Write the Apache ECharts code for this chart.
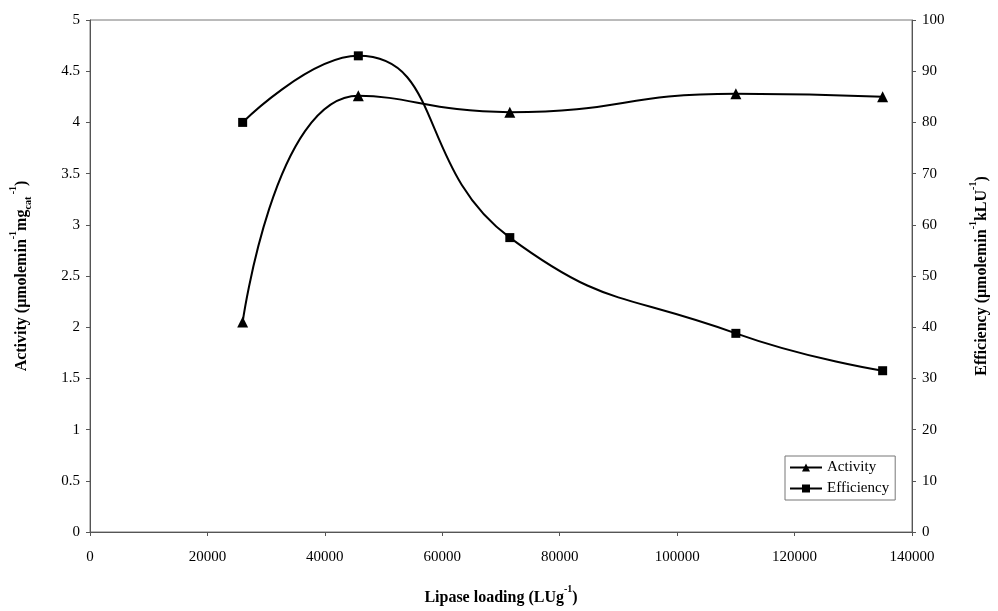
<!DOCTYPE html>
<html>
<head>
<meta charset="utf-8">
<script src="https://cdn.jsdelivr.net/npm/echarts@6/dist/echarts.min.js"></script>
<style>
  html, body { margin: 0; padding: 0; background: #fff; }
  #main { width: 998px; height: 611px; }
</style>
</head>
<body>
<div id="main"></div>
<script>
// lipase loading (LU/g)
var loading = [26000, 45700, 71500, 110000, 135000];
// activity (left axis)
var activity = [2.05, 4.26, 4.1, 4.28, 4.25];
// efficiency (right axis)
var efficiency = [80, 93, 57.5, 38.8, 31.5];

var pairs = function(xs, ys) {
    var out = [];
    for (var i = 0; i < xs.length; i++) {
        out.push([xs[i], ys[i]]);
    }
    return out;
};

var serif = '"Liberation Serif", "DejaVu Serif", serif';
var richName = {
    b: { fontFamily: serif, fontWeight: 'bold', fontSize: 16, color: '#000', lineHeight: 22, verticalAlign: 'bottom' },
    sup: { fontFamily: serif, fontWeight: 'bold', fontSize: 10, color: '#000', lineHeight: 22, verticalAlign: 'top' },
    sub: { fontFamily: serif, fontWeight: 'bold', fontSize: 10, color: '#000', lineHeight: 22, verticalAlign: 'bottom', padding: [0, 0, -3, 0] }
};
var axisLine = { show: true, lineStyle: { color: '#555', width: 1 } };
var axisTick = { show: true, length: 4, lineStyle: { color: '#555' } };
var axisLabel = { color: '#000', fontFamily: serif, fontSize: 15 };

var myChart = echarts.init(document.getElementById('main'));
var option = {
    backgroundColor: '#fff',
    animation: false,
    grid: {
        left: 88,
        right: 72,
        top: 20,
        bottom: 69,
        show: true,
        borderColor: '#777',
        borderWidth: 1
    },
    legend: {
        orient: 'vertical',
        left: 785,
        top: 456,
        itemWidth: 32,
        itemHeight: 10,
        itemGap: 6,
        padding: [4, 6, 4, 4],
        borderColor: '#777',
        borderWidth: 1,
        textStyle: { color: '#000', fontFamily: serif, fontSize: 15 },
        data: ['Activity', 'Efficiency']
    },
    xAxis: {
        type: 'value',
        min: 0,
        max: 140000,
        interval: 20000,
        axisLine: axisLine,
        axisTick: axisTick,
        axisLabel: Object.assign({ margin: 18, formatter: function(v) { return String(v); } }, axisLabel),
        splitLine: { show: false },
        name: '{b|Lipase loading (LUg}{sup|-1}{b|)}',
        nameLocation: 'middle',
        nameGap: 52,
        nameTextStyle: { rich: richName }
    },
    yAxis: [{
        type: 'value',
        min: 0,
        max: 5,
        interval: 0.5,
        axisLine: axisLine,
        axisTick: axisTick,
        axisLabel: Object.assign({ margin: 10 }, axisLabel),
        splitLine: { show: false },
        name: '{b|Activity (\u03bcmolemin}{sup|-1}{b|mg}{sub|cat}{sup| -1}{b|)}',
        nameLocation: 'middle',
        nameRotate: 90,
        nameGap: 60,
        nameTextStyle: { rich: richName }
    }, {
        type: 'value',
        min: 0,
        max: 100,
        interval: 10,
        position: 'right',
        axisLine: axisLine,
        axisTick: axisTick,
        axisLabel: Object.assign({ margin: 10 }, axisLabel),
        splitLine: { show: false },
        name: '{b|Efficiency (\u03bcmolemin}{sup|-1}{b|kLU}{sup|-1}{b|)}',
        nameLocation: 'middle',
        nameRotate: 90,
        nameGap: 56,
        nameTextStyle: { rich: richName }
    }],
    series: [{
        name: 'Activity',
        type: 'line',
        yAxisIndex: 0,
        smooth: 0.5,
        symbol: 'triangle',
        symbolSize: 11,
        itemStyle: { color: '#000' },
        lineStyle: { color: '#000', width: 2 },
        data: pairs(loading, activity)
    }, {
        name: 'Efficiency',
        type: 'line',
        yAxisIndex: 1,
        smooth: 0.5,
        symbol: 'rect',
        symbolSize: 9,
        itemStyle: { color: '#000' },
        lineStyle: { color: '#000', width: 2 },
        data: pairs(loading, efficiency)
    }]
};
myChart.setOption(option);
</script>
</body>
</html>
